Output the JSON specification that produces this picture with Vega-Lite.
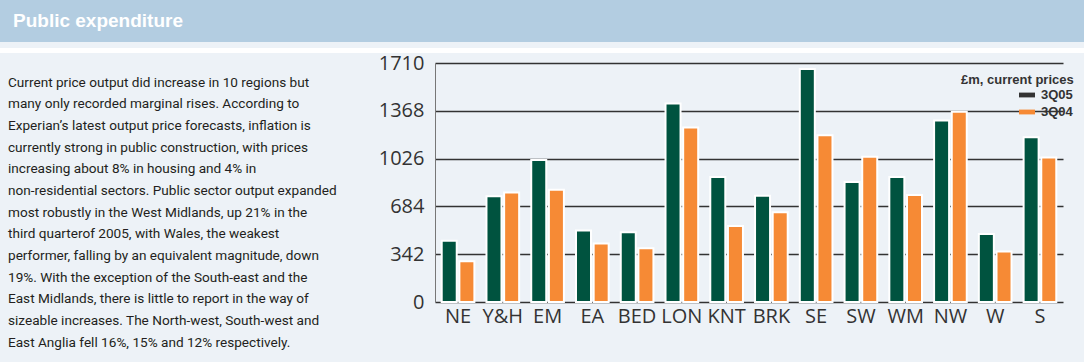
{
  "$schema": "https://vega.github.io/schema/vega-lite/v6.json",
  "background": "#edf2f7",
  "padding": 0,
  "spacing": 0,
  "config": {"view": {"stroke": null}},
  "vconcat": [
    {
      "spacing": 0,
      "vconcat": [
        {
          "width": 1084,
          "height": 42,
          "view": {"fill": "#b3cde1", "stroke": null},
          "data": {"values": [{"t": "Public expenditure"}]},
          "mark": {"type": "text", "align": "left", "baseline": "alphabetic", "font": "Liberation Sans", "fontWeight": "bold", "fontSize": 19, "fill": "#ffffff"},
          "encoding": {"text": {"field": "t"}, "x": {"value": 13}, "y": {"value": 27}}
        },
        {
          "width": 1084,
          "height": 5,
          "view": {"fill": "#ffffff", "stroke": null},
          "data": {"values": [{"t": ""}]},
          "mark": {"type": "text"},
          "encoding": {"text": {"field": "t"}, "x": {"value": 0}, "y": {"value": 0}}
        }
      ]
    },
    {
      "spacing": 0,
      "hconcat": [
        {
          "width": 378,
          "height": 300,
          "data": {"values": [
            {"line": 1, "t": "Current price output did increase in 10 regions but"},
            {"line": 2, "t": "many only recorded marginal rises. According to"},
            {"line": 3, "t": "Experian’s latest output price forecasts, inflation is"},
            {"line": 4, "t": "currently strong in public construction, with prices"},
            {"line": 5, "t": "increasing about 8% in housing and 4% in"},
            {"line": 6, "t": "non-residential sectors. Public sector output expanded"},
            {"line": 7, "t": "most robustly in the West Midlands, up 21% in the"},
            {"line": 8, "t": "third quarterof  2005, with Wales, the weakest"},
            {"line": 9, "t": "performer, falling by an equivalent magnitude, down"},
            {"line": 10, "t": "19%. With the exception of the South-east and the"},
            {"line": 11, "t": "East Midlands, there is little to report in the way of"},
            {"line": 12, "t": "sizeable increases. The North-west, South-west and"},
            {"line": 13, "t": "East Anglia fell 16%, 15% and 12% respectively."}
          ]},
          "mark": {"type": "text", "align": "left", "baseline": "middle", "font": "Roboto", "fontSize": 13.6, "fill": "#231f20"},
          "encoding": {
            "text": {"field": "t"},
            "x": {"value": 8},
            "y": {"field": "line", "type": "quantitative", "scale": {"domain": [1, 13], "range": [19.7, 279.7], "zero": false, "nice": false}, "axis": null}
          }
        },
        {
          "width": 628,
          "height": 239,
          "data": {"values": [
            {"region": "NE", "period": "3Q05", "value": 439}, {"region": "NE", "period": "3Q04", "value": 291},
            {"region": "Y&H", "period": "3Q05", "value": 756}, {"region": "Y&H", "period": "3Q04", "value": 783},
            {"region": "EM", "period": "3Q05", "value": 1016}, {"region": "EM", "period": "3Q04", "value": 804},
            {"region": "EA", "period": "3Q05", "value": 511}, {"region": "EA", "period": "3Q04", "value": 418},
            {"region": "BED", "period": "3Q05", "value": 499}, {"region": "BED", "period": "3Q04", "value": 384},
            {"region": "LON", "period": "3Q05", "value": 1420}, {"region": "LON", "period": "3Q04", "value": 1248},
            {"region": "KNT", "period": "3Q05", "value": 894}, {"region": "KNT", "period": "3Q04", "value": 544},
            {"region": "BRK", "period": "3Q05", "value": 761}, {"region": "BRK", "period": "3Q04", "value": 642},
            {"region": "SE", "period": "3Q05", "value": 1667}, {"region": "SE", "period": "3Q04", "value": 1193},
            {"region": "SW", "period": "3Q05", "value": 859}, {"region": "SW", "period": "3Q04", "value": 1040},
            {"region": "WM", "period": "3Q05", "value": 894}, {"region": "WM", "period": "3Q04", "value": 766},
            {"region": "NW", "period": "3Q05", "value": 1298}, {"region": "NW", "period": "3Q04", "value": 1362},
            {"region": "W", "period": "3Q05", "value": 487}, {"region": "W", "period": "3Q04", "value": 361},
            {"region": "S", "period": "3Q05", "value": 1178}, {"region": "S", "period": "3Q04", "value": 1033}
          ]},
          "layer": [
            {
              "mark": {"type": "bar", "stroke": "#ffffff", "strokeWidth": 2},
              "encoding": {
                "x": {
                  "field": "region", "type": "nominal", "sort": null,
                  "scale": {"paddingInner": 0.27, "paddingOuter": 0.15},
                  "axis": {"title": null, "labelAngle": 0, "ticks": false, "domain": false, "labelPadding": 4, "labelFont": "Open Sans", "labelFontSize": 20, "labelColor": "#333333"}
                },
                "xOffset": {"field": "period", "type": "nominal", "sort": ["3Q05", "3Q04"], "scale": {"paddingInner": 0.15}},
                "y": {
                  "field": "value", "type": "quantitative",
                  "scale": {"domain": [0, 1710], "nice": false},
                  "axis": {"title": null, "values": [0, 342, 684, 1026, 1368, 1710], "format": "d", "grid": true, "gridColor": "#333333", "gridWidth": 1.5, "ticks": false, "domain": true, "domainColor": "#777777", "domainWidth": 1, "labelPadding": 11, "labelFont": "Open Sans", "labelFontSize": 20, "labelColor": "#333333"}
                },
                "color": {
                  "field": "period", "type": "nominal",
                  "scale": {"domain": ["3Q05", "3Q04"], "range": ["#00533f", "#f68a35"]},
                  "legend": null
                }
              }
            },
            {
              "transform": [{"filter": "false"}],
              "mark": {"type": "bar"},
              "encoding": {
                "color": {
                  "field": "period", "type": "nominal",
                  "scale": {"domain": ["3Q05", "3Q04"], "range": ["#333333", "#f68a35"]},
                  "legend": {
                    "orient": "none", "legendX": 526, "legendY": 11, "padding": 0,
                    "title": "£m, current prices", "titleFont": "Liberation Sans", "titleFontWeight": "bold", "titleFontSize": 13, "titleColor": "#333333", "titlePadding": 0,
                    "labelFont": "Liberation Sans", "labelFontWeight": "bold", "labelFontSize": 13, "labelColor": "#333333",
                    "symbolType": "M-1,-0.3H1V0.3H-1Z", "symbolSize": 256, "symbolStrokeWidth": 0, "symbolOpacity": 1,
                    "symbolOffset": 58, "labelOffset": 6, "rowPadding": 2
                  }
                }
              }
            }
          ],
          "resolve": {"scale": {"color": "independent"}}
        }
      ]
    }
  ]
}
